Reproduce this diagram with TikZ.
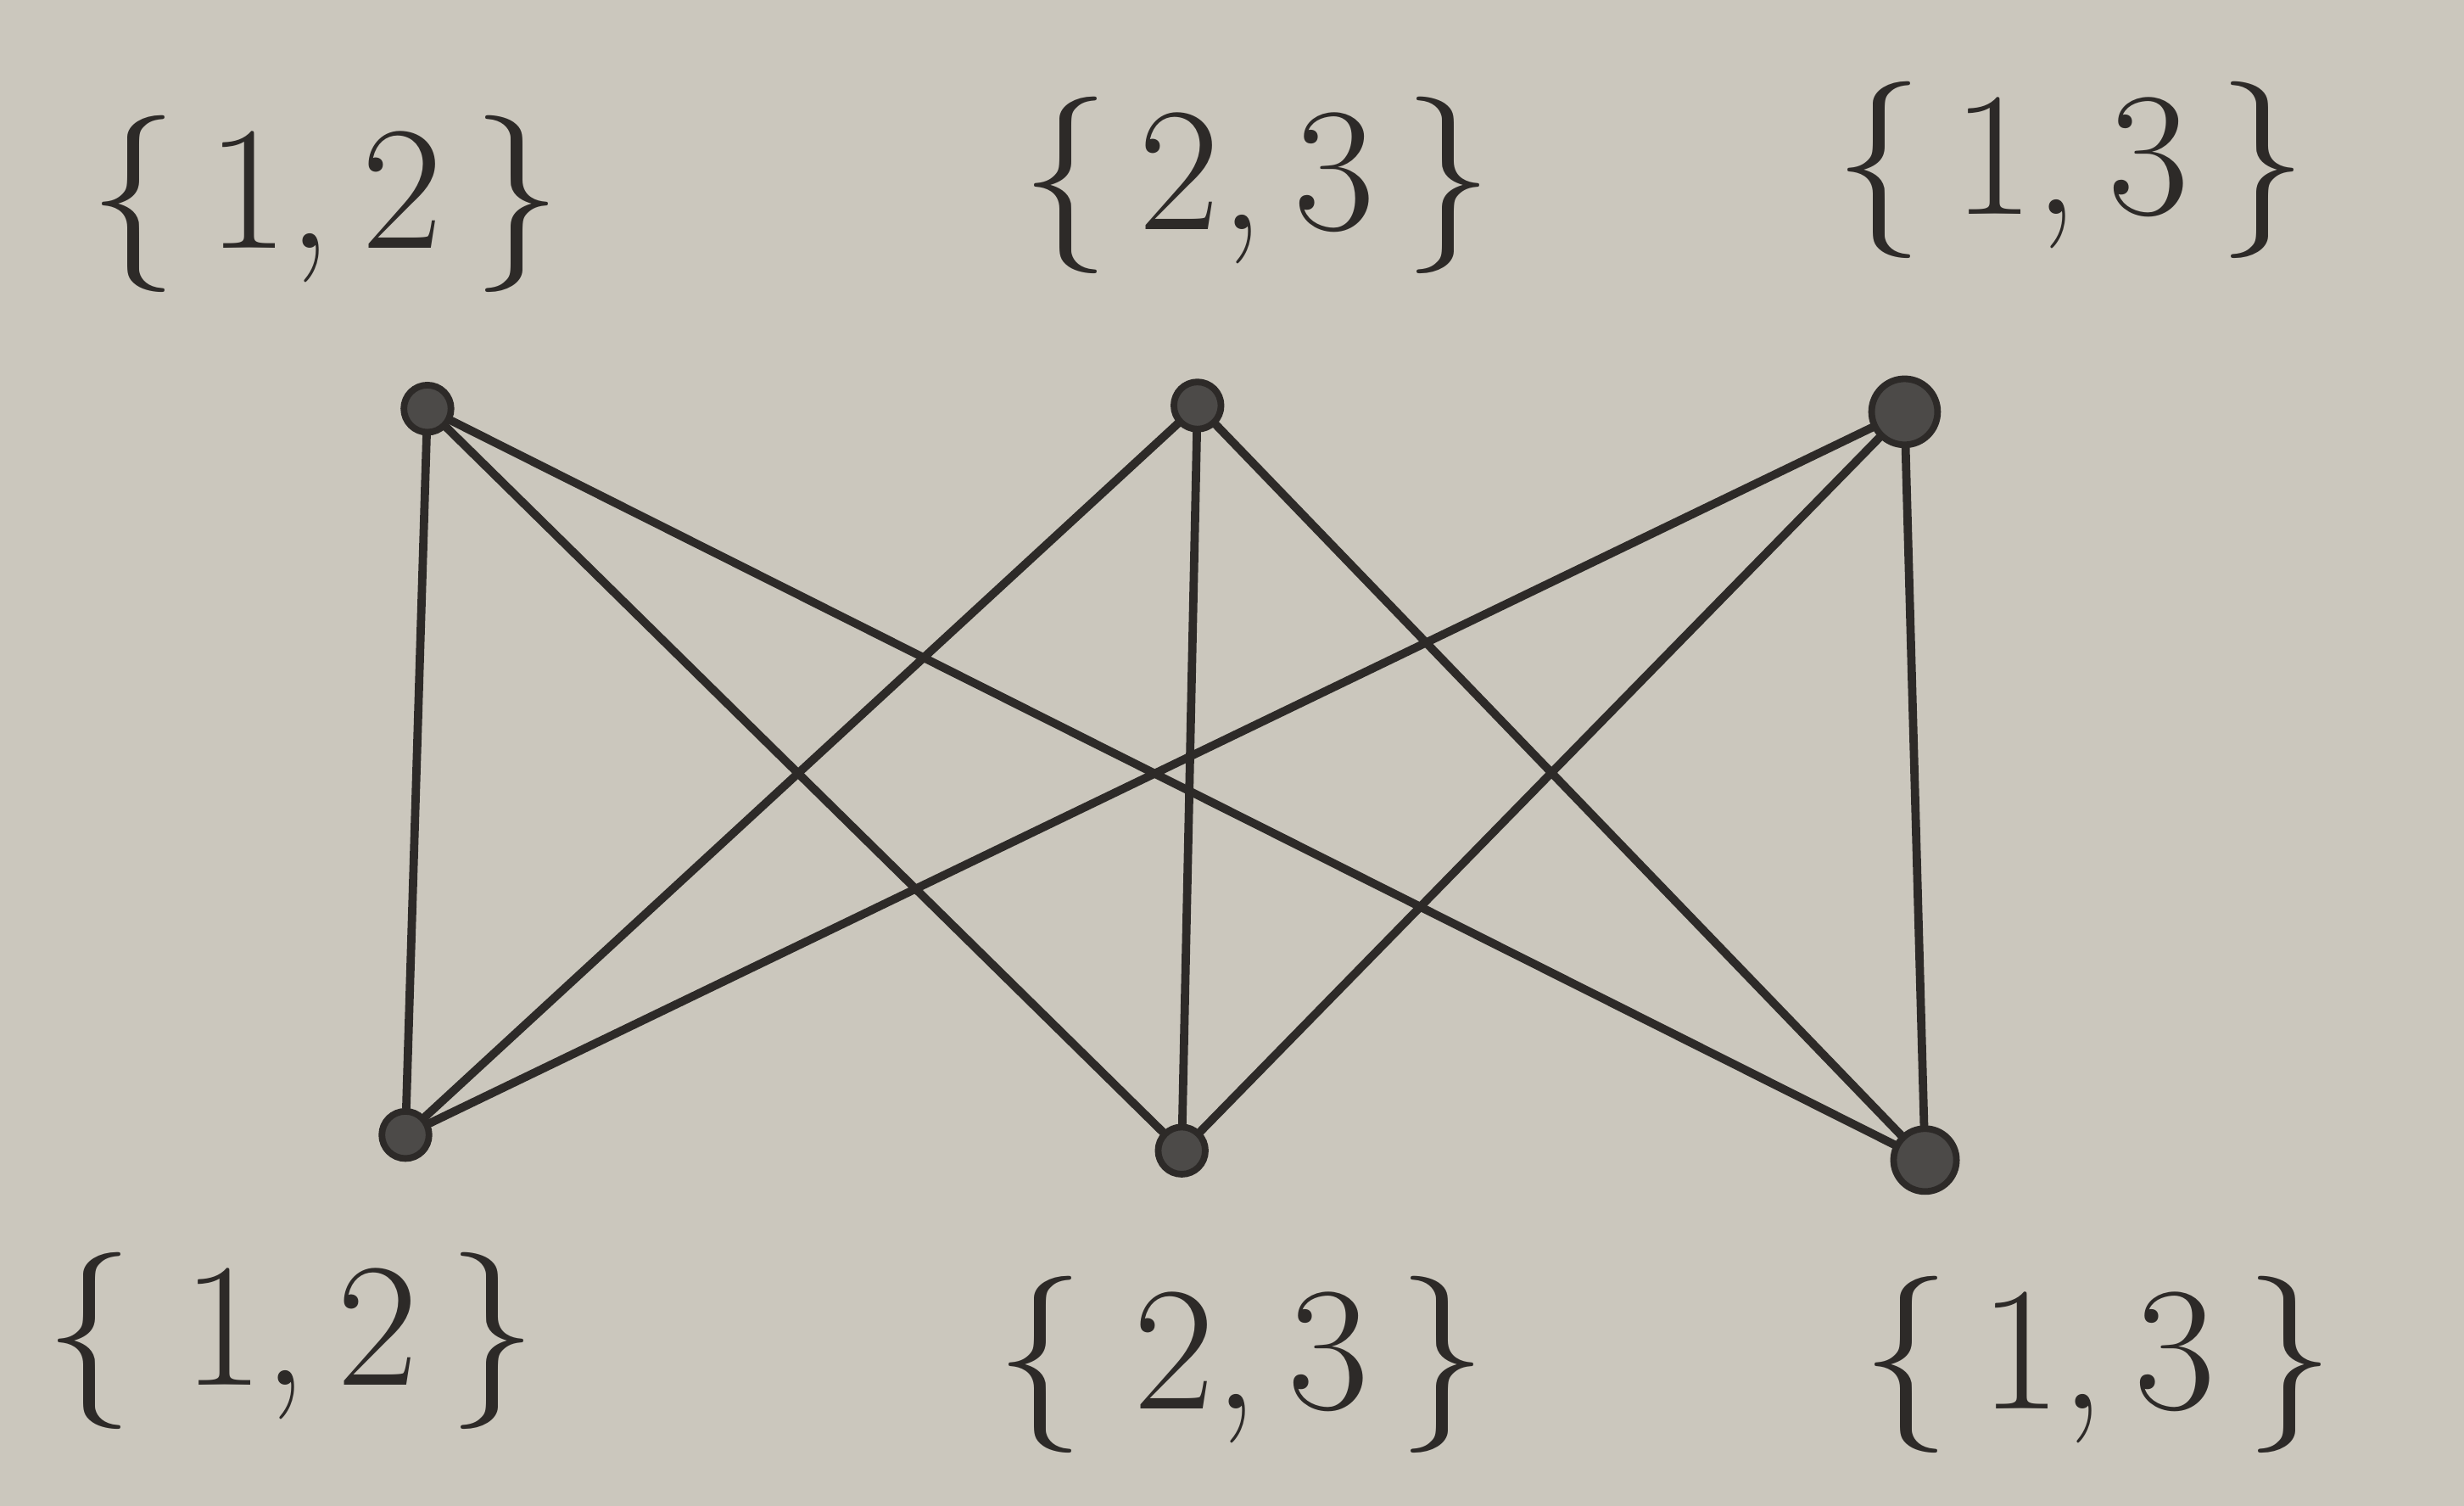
\documentclass[tikz,border=0pt]{standalone}
\usepackage{fontspec}
\definecolor{paper}{RGB}{203,199,189}
\definecolor{ink}{RGB}{45,42,40}
\tikzset{
  vtx/.style={circle,fill=ink!85,draw=ink,line width=1.2pt,minimum size=0.3cm,inner sep=0pt},
  edge/.style={draw=ink,line width=1.5pt,line cap=round},
  lbl/.style={text=ink,font=\fontsize{32}{36}\selectfont,inner sep=0pt}
}
\begin{document}
\begin{tikzpicture}
\fill[paper] (0,0) rectangle (15.68,9.58);
\useasboundingbox (0,0) rectangle (15.68,9.58);
% top vertices
\node[vtx] (t1) at (2.72,6.98) {};
\node[vtx] (t2) at (7.62,7.00) {};
\node[vtx,minimum size=0.42cm] (t3) at (12.12,6.96) {};
% bottom vertices
\node[vtx] (b1) at (2.58,2.36) {};
\node[vtx] (b2) at (7.52,2.26) {};
\node[vtx,minimum size=0.4cm] (b3) at (12.25,2.20) {};
% labels
\node[lbl] (l1) at (2.07,8.28) {\{\,1,\,2\,\}};
\node[lbl] (l2) at (8.00,8.40) {\{\,2,\,3\,\}};
\node[lbl] (l3) at (13.18,8.50) {\{\,1,\,3\,\}};
\node[lbl] (l4) at (1.85,1.05) {\{\;1,\,2\,\}};
\node[lbl] (l5) at (7.90,0.90) {\{\;2,\,3\,\}};
\node[lbl] (l6) at (13.35,0.90) {\{\,1,\,3\,\}};
% edges
\foreach \t in {t1,t2,t3}{
  \foreach \b in {b1,b2,b3}{
    \draw[edge] (\t) -- (\b);
  }
}
\end{tikzpicture}
\end{document}
